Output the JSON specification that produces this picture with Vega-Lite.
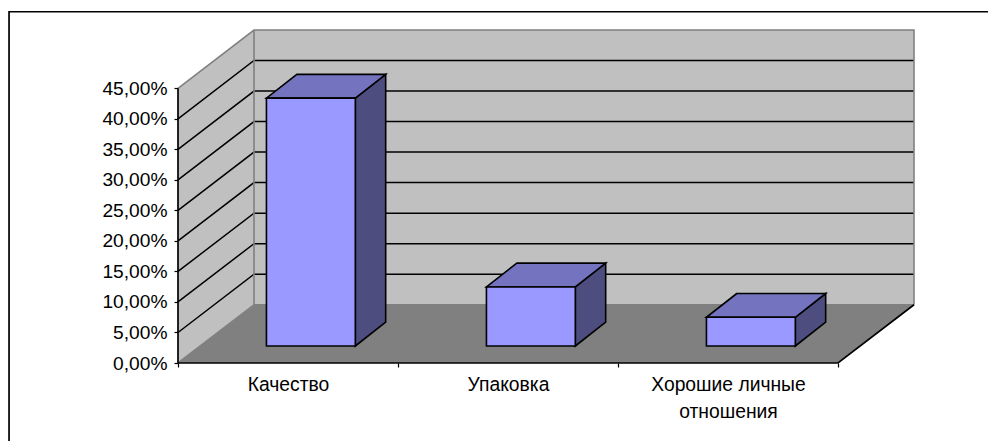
{
  "$schema": "https://vega.github.io/schema/vega-lite/v6.json",
  "width": 736,
  "height": 333,
  "autosize": "none",
  "padding": {"left": 178, "top": 30, "right": 74, "bottom": 78},
  "background": "white",
  "config": {"view": {"stroke": null}, "font": "Liberation Sans"},
  "datasets": {
    "backWall": [{"u": 0.3455, "u2": 3.3455, "v": 0.0955, "v2": 0.5455}],
    "sideWall": [
      {"u": 0, "v": 0, "v2": 0.45},
      {"u": 0.3455, "v": 0.0955, "v2": 0.5455}
    ],
    "floor": [
      {"v": 0, "u": 0, "u2": 3},
      {"v": 0.0955, "u": 0.3455, "u2": 3.3455}
    ],
    "gridLines": [
      {"level": "5%", "step": 1, "u": 0, "v": 0.05}, {"level": "5%", "step": 2, "u": 0.3455, "v": 0.1455}, {"level": "5%", "step": 3, "u": 3.3455, "v": 0.1455},
      {"level": "10%", "step": 1, "u": 0, "v": 0.1}, {"level": "10%", "step": 2, "u": 0.3455, "v": 0.1955}, {"level": "10%", "step": 3, "u": 3.3455, "v": 0.1955},
      {"level": "15%", "step": 1, "u": 0, "v": 0.15}, {"level": "15%", "step": 2, "u": 0.3455, "v": 0.2455}, {"level": "15%", "step": 3, "u": 3.3455, "v": 0.2455},
      {"level": "20%", "step": 1, "u": 0, "v": 0.2}, {"level": "20%", "step": 2, "u": 0.3455, "v": 0.2955}, {"level": "20%", "step": 3, "u": 3.3455, "v": 0.2955},
      {"level": "25%", "step": 1, "u": 0, "v": 0.25}, {"level": "25%", "step": 2, "u": 0.3455, "v": 0.3455}, {"level": "25%", "step": 3, "u": 3.3455, "v": 0.3455},
      {"level": "30%", "step": 1, "u": 0, "v": 0.3}, {"level": "30%", "step": 2, "u": 0.3455, "v": 0.3955}, {"level": "30%", "step": 3, "u": 3.3455, "v": 0.3955},
      {"level": "35%", "step": 1, "u": 0, "v": 0.35}, {"level": "35%", "step": 2, "u": 0.3455, "v": 0.4455}, {"level": "35%", "step": 3, "u": 3.3455, "v": 0.4455},
      {"level": "40%", "step": 1, "u": 0, "v": 0.4}, {"level": "40%", "step": 2, "u": 0.3455, "v": 0.4955}, {"level": "40%", "step": 3, "u": 3.3455, "v": 0.4955}
    ],
    "wallEdges": [
      {"edge": "top", "step": 1, "u": 0, "v": 0.45}, {"edge": "top", "step": 2, "u": 0.3455, "v": 0.5455}, {"edge": "top", "step": 3, "u": 3.3455, "v": 0.5455}, {"edge": "top", "step": 4, "u": 3.3455, "v": 0.0955},
      {"edge": "base", "step": 1, "u": 0, "v": 0}, {"edge": "base", "step": 2, "u": 0.3455, "v": 0.0955}, {"edge": "base", "step": 3, "u": 3.3455, "v": 0.0955},
      {"edge": "corner", "step": 1, "u": 0.3455, "v": 0.0955}, {"edge": "corner", "step": 2, "u": 0.3455, "v": 0.5455}
    ],
    "blackEdges": [
      {"edge": "valueAxis", "step": 1, "u": 0, "v": 0}, {"edge": "valueAxis", "step": 2, "u": 0, "v": 0.45},
      {"edge": "categoryAxis", "step": 1, "u": 0, "v": 0}, {"edge": "categoryAxis", "step": 2, "u": 3, "v": 0}, {"edge": "categoryAxis", "step": 3, "u": 3.3455, "v": 0.0955},
      {"edge": "frame", "step": 1, "u": 3.7, "v": 0.5754}, {"edge": "frame", "step": 2, "u": -0.768, "v": 0.5754}, {"edge": "frame", "step": 3, "u": -0.768, "v": -0.14}
    ],
    "bars": [
      {"category": "Качество", "u": 0.402, "u2": 0.806, "value": 0.406},
      {"category": "Упаковка", "u": 1.402, "u2": 1.806, "value": 0.0967},
      {"category": "Хорошие личные отношения", "u": 2.402, "u2": 2.806, "value": 0.047}
    ],
    "barTops": [
      {"category": "Качество", "v": 0.406, "u": 0.402, "u2": 0.806},
      {"category": "Качество", "v": 0.445, "u": 0.54, "u2": 0.944},
      {"category": "Упаковка", "v": 0.0967, "u": 1.402, "u2": 1.806},
      {"category": "Упаковка", "v": 0.1357, "u": 1.54, "u2": 1.944},
      {"category": "Хорошие личные отношения", "v": 0.047, "u": 2.402, "u2": 2.806},
      {"category": "Хорошие личные отношения", "v": 0.086, "u": 2.54, "u2": 2.944}
    ],
    "barSides": [
      {"category": "Качество", "u": 0.806, "v": 0, "v2": 0.406},
      {"category": "Качество", "u": 0.944, "v": 0.039, "v2": 0.445},
      {"category": "Упаковка", "u": 1.806, "v": 0, "v2": 0.0967},
      {"category": "Упаковка", "u": 1.944, "v": 0.039, "v2": 0.1357},
      {"category": "Хорошие личные отношения", "u": 2.806, "v": 0, "v2": 0.047},
      {"category": "Хорошие личные отношения", "u": 2.944, "v": 0.039, "v2": 0.086}
    ]
  },
  "encoding": {
    "x": {
      "field": "u",
      "type": "quantitative",
      "scale": {"domain": [0, 3.3455], "nice": false, "zero": false},
      "axis": {
        "title": null,
        "grid": false,
        "domain": false,
        "values": [0, 0.5, 1, 1.5, 2, 2.5, 3],
        "tickColor": "black",
        "tickSize": 4,
        "tickWidth": 1.2,
        "tickOpacity": {"condition": {"test": "datum.value % 1 !== 0", "value": 0}, "value": 1},
        "labelExpr": "datum.value === 0.5 ? 'Качество' : datum.value === 1.5 ? 'Упаковка' : datum.value === 2.5 ? ['Хорошие личные', 'отношения'] : ''",
        "labelFont": "Liberation Sans",
        "labelFontSize": 19.3,
        "labelColor": "black",
        "labelPadding": 8,
        "labelAngle": 0,
        "labelOverlap": false,
        "labelFlush": false,
        "labelBound": false,
        "labelLineHeight": 27.5
      }
    },
    "y": {
      "field": "v",
      "type": "quantitative",
      "scale": {"domain": [0, 0.5455], "nice": false, "zero": false},
      "axis": {
        "title": null,
        "grid": false,
        "domain": false,
        "values": [0, 0.05, 0.1, 0.15, 0.2, 0.25, 0.3, 0.35, 0.4, 0.45],
        "tickColor": "black",
        "tickSize": 4,
        "tickWidth": 1.2,
        "labelExpr": "replace(format(datum.value, '.2%'), '.', ',')",
        "labelFont": "Liberation Sans",
        "labelFontSize": 19.2,
        "labelColor": "black",
        "labelPadding": 7,
        "labelOverlap": false,
        "labelFlush": false,
        "labelBound": false
      }
    }
  },
  "layer": [
    {
      "data": {"name": "backWall"},
      "mark": {"type": "rect", "fill": "#C0C0C0"},
      "encoding": {"x2": {"field": "u2"}, "y2": {"field": "v2"}}
    },
    {
      "data": {"name": "sideWall"},
      "mark": {"type": "area", "fill": "#C0C0C0", "orient": "vertical"},
      "encoding": {"y2": {"field": "v2"}}
    },
    {
      "data": {"name": "floor"},
      "mark": {"type": "area", "fill": "#808080", "orient": "horizontal"},
      "encoding": {"x2": {"field": "u2"}}
    },
    {
      "data": {"name": "gridLines"},
      "mark": {"type": "line", "stroke": "black", "strokeWidth": 1.5},
      "encoding": {"detail": {"field": "level"}, "order": {"field": "step"}}
    },
    {
      "data": {"name": "wallEdges"},
      "mark": {"type": "line", "stroke": "#808080", "strokeWidth": 1.6},
      "encoding": {"detail": {"field": "edge"}, "order": {"field": "step"}}
    },
    {
      "data": {"name": "blackEdges"},
      "mark": {"type": "line", "stroke": "black", "strokeWidth": 1.7},
      "encoding": {"detail": {"field": "edge"}, "order": {"field": "step"}}
    },
    {
      "data": {"name": "barSides"},
      "mark": {"type": "area", "orient": "vertical", "fill": "#4D4D80", "stroke": "black", "strokeWidth": 1.6, "yOffset": -17, "y2Offset": -17},
      "encoding": {"detail": {"field": "category"}, "y2": {"field": "v2"}}
    },
    {
      "data": {"name": "barTops"},
      "mark": {"type": "area", "orient": "horizontal", "fill": "#7373BF", "stroke": "black", "strokeWidth": 1.6, "yOffset": -17},
      "encoding": {"detail": {"field": "category"}, "x2": {"field": "u2"}}
    },
    {
      "data": {"name": "bars"},
      "mark": {"type": "rect", "fill": "#9999FF", "stroke": "black", "strokeWidth": 1.6, "yOffset": -17, "y2Offset": -17},
      "encoding": {
        "x2": {"field": "u2"},
        "y": {"field": "value", "type": "quantitative"},
        "y2": {"datum": 0}
      }
    }
  ]
}
